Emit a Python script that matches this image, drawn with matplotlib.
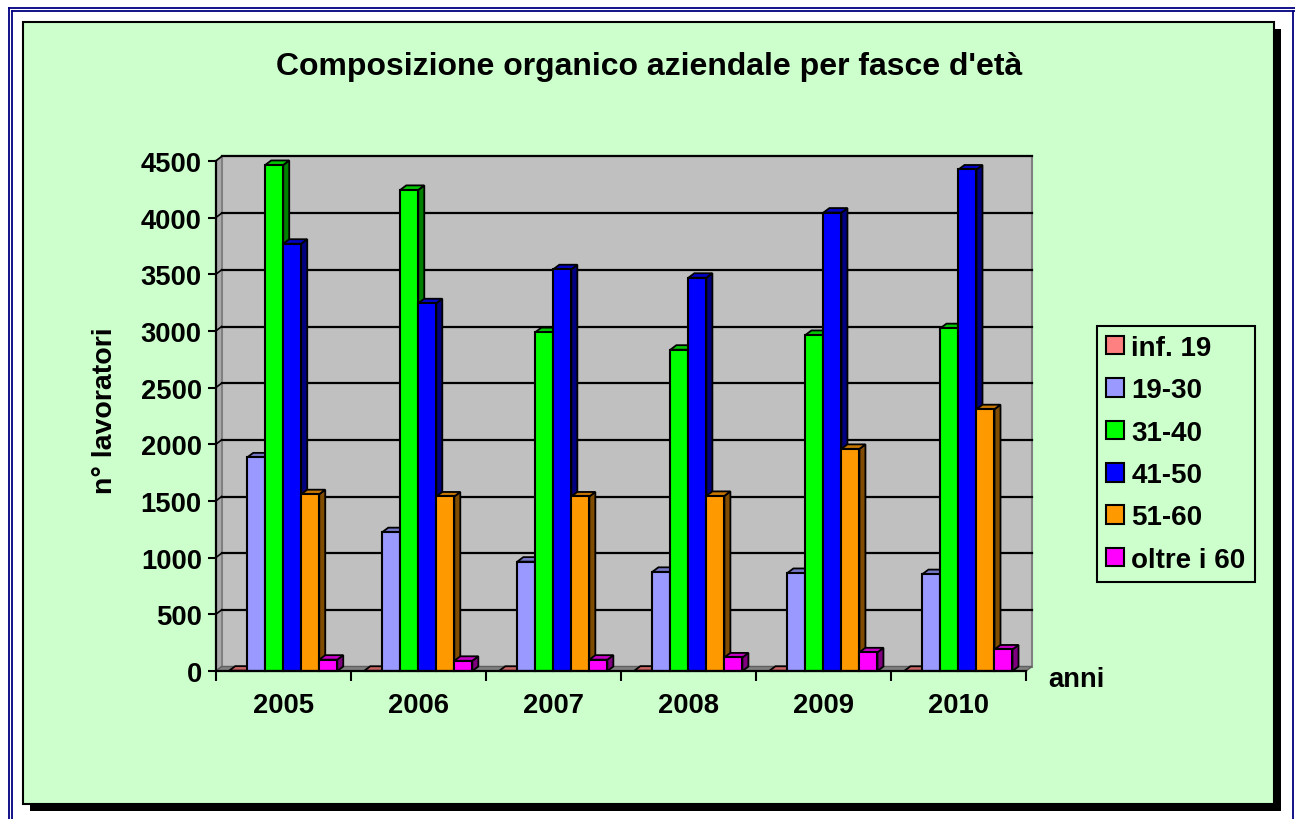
import matplotlib
matplotlib.use('Agg')
import matplotlib.pyplot as plt
from matplotlib.patches import Rectangle, Polygon, Patch
import numpy as np

plt.rcParams['font.family'] = ['Liberation Sans', 'DejaVu Sans']
plt.rcParams['font.weight'] = 'bold'

# ---------------- data ----------------
years = ['2005', '2006', '2007', '2008', '2009', '2010']
series_names = ['inf. 19', '19-30', '31-40', '41-50', '51-60', 'oltre i 60']
inf_19 = [3, 2, 2, 3, 2, 2]
age_19_30 = [1885, 1225, 965, 875, 865, 855]
age_31_40 = [4465, 4245, 2990, 2835, 2965, 3025]
age_41_50 = [3770, 3245, 3545, 3470, 4045, 4425]
age_51_60 = [1560, 1540, 1540, 1545, 1960, 2310]
over_60 = [100, 90, 100, 120, 165, 190]
yticks = [0, 500, 1000, 1500, 2000, 2500, 3000, 3500, 4000, 4500]

title = "Composizione organico aziendale per fasce d'età"
ylabel = 'n° lavoratori'
xlabel = 'anni'

colors = ['#FF8080', '#9999FF', '#00FF00', '#0000FF', '#FF9900', '#FF00FF']

W, H = 1295, 820
fig = plt.figure(figsize=(W / 100, H / 100), dpi=100)
fig.patch.set_facecolor('white')


def fx(px):
    return px / W


def fy(py):
    return 1 - py / H


# outer navy double frame
for off in (8.5, 12.0):
    fig.add_artist(plt.Line2D([fx(off), fx(W + 5)], [fy(off), fy(off)], color='#000080', lw=1.3, zorder=-5))
    fig.add_artist(plt.Line2D([fx(off), fx(off)], [fy(off), fy(H + 5)], color='#000080', lw=1.3, zorder=-5))
fig.add_artist(plt.Line2D([fx(1292.5), fx(1292.5)], [fy(12), fy(H + 5)], color='#000080', lw=1.3, zorder=-5))

# chart area with shadow
fig.add_artist(Rectangle((fx(30), fy(812)), fx(1281) - fx(30), fy(30) - fy(812),
                         transform=fig.transFigure, facecolor='black', edgecolor='none', zorder=-4))
fig.add_artist(Rectangle((fx(23), fy(805)), fx(1274) - fx(23), fy(23) - fy(805),
                         transform=fig.transFigure, facecolor='#CCFFCC', edgecolor='black', lw=1.5,
                         zorder=-3))

# plot area
left_px, right_px, top_px, bot_px = 215.7, 1026.0, 162.0, 672.0
ax = fig.add_axes([fx(left_px), fy(bot_px), fx(right_px) - fx(left_px), fy(top_px) - fy(bot_px)])
ax.set_xlim(-0.5, 5.5)
ax.set_ylim(0, 4500)
ax.patch.set_visible(False)

ux = (right_px - left_px) / 6.0
uy = (bot_px - top_px) / 4500.0
dx = 6.0 / ux
dy = 4.5 / uy

# back wall, side wall, floor
ax.add_patch(Rectangle((-0.5 + dx, dy), 6, 4500, facecolor='#C0C0C0', edgecolor='#808080',
                       lw=1.5, clip_on=False, zorder=0.5))
ax.add_patch(Polygon([(-0.5, 0), (-0.5 + dx, dy), (-0.5 + dx, 4500 + dy), (-0.5, 4500)],
                     facecolor='#A8A8A8', edgecolor='#808080', lw=1.0, clip_on=False, zorder=0.6))
ax.add_patch(Polygon([(-0.5, 0), (5.5, 0), (5.5 + dx, dy), (-0.5 + dx, dy)],
                     facecolor='#808080', edgecolor='#606060', lw=1.0, clip_on=False, zorder=0.6))
for v in yticks[1:]:
    ax.plot([-0.5 + dx, 5.5 + dx], [v + dy, v + dy], color='black', lw=1.6, clip_on=False, zorder=0.8)
    ax.plot([-0.5, -0.5 + dx], [v, v + dy], color='black', lw=1.2, clip_on=False, zorder=0.8)


def darker(c, f):
    r, g, b = matplotlib.colors.to_rgb(c)
    return (r * f, g * f, b * f)


all_series = [inf_19, age_19_30, age_31_40, age_41_50, age_51_60, over_60]
w = 0.8 / 6
xs = np.arange(len(years))
for i, (vals, col) in enumerate(zip(all_series, colors)):
    xpos = xs + (i - 2.5) * w
    base_z = 3 + 2 * i
    for x, v in zip(xpos, vals):
        xr = x + w / 2
        xl = x - w / 2
        ax.add_patch(Polygon([(xr, 0), (xr + dx, dy), (xr + dx, v + dy), (xr, v)],
                             facecolor=darker(col, 0.5), edgecolor='black', lw=1.3,
                             clip_on=False, zorder=base_z))
        ax.add_patch(Polygon([(xl, v), (xl + dx, v + dy), (xr + dx, v + dy), (xr, v)],
                             facecolor=darker(col, 0.78), edgecolor='black', lw=1.3,
                             clip_on=False, zorder=base_z))
    ax.bar(xpos, vals, width=w, color=col, edgecolor='black', lw=1.5, zorder=base_z + 1,
           clip_on=False)

# axes styling
for s in ('top', 'right'):
    ax.spines[s].set_visible(False)
for s in ('left', 'bottom'):
    ax.spines[s].set_linewidth(1.6)
    ax.spines[s].set_zorder(20)
ax.set_yticks(yticks)
ax.set_yticklabels([str(t) for t in yticks])
ax.tick_params(axis='y', direction='out', length=6, width=1.5, pad=4, labelsize=19.7)
ax.set_xticks(np.arange(-0.5, 6, 1))
ax.set_xticklabels([])
ax.set_xticks(xs, minor=True)
ax.set_xticklabels(years, minor=True)
ax.tick_params(axis='x', which='major', direction='out', length=7.5, width=1.5)
ax.tick_params(axis='x', which='minor', length=0, pad=15, labelsize=19.7)
for lab in ax.get_xticklabels(minor=True) + ax.get_yticklabels():
    lab.set_fontweight('bold')

fig.text(fx(649), fy(75), title, ha='center', va='baseline', fontsize=23, fontweight='bold')
fig.text(fx(105), fy(411), ylabel, ha='center', va='center', rotation=90, fontsize=20.5,
         fontweight='bold')
fig.text(fx(1048), fy(686.7), xlabel, ha='left', va='baseline', fontsize=19.7, fontweight='bold')

handles = [Patch(facecolor=c, edgecolor='black', lw=1.5) for c in colors]
leg = fig.legend(handles, series_names, loc='upper left',
                 bbox_to_anchor=(fx(1096.7), fy(326.7)), bbox_transform=fig.transFigure,
                 borderaxespad=0, prop={'size': 20, 'weight': 'bold'},
                 handlelength=0.65, handleheight=0.65, handletextpad=0.27,
                 labelspacing=0.59, borderpad=0.33, fancybox=False, framealpha=1)
leg.get_frame().set_facecolor('#CCFFCC')
leg.get_frame().set_edgecolor('black')
leg.get_frame().set_linewidth(1.5)

fig.savefig('out.png', dpi=100)
